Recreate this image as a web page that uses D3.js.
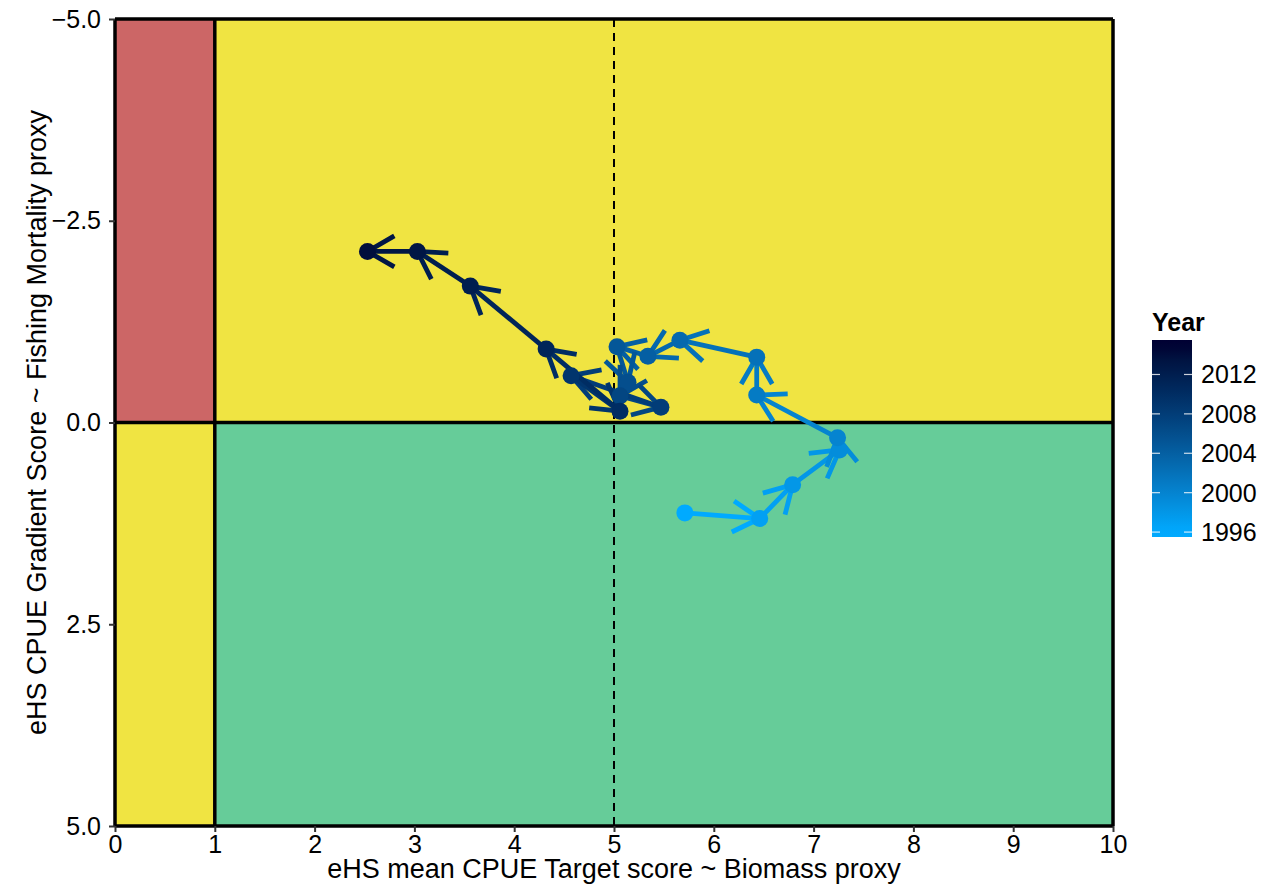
<!DOCTYPE html>
<html><head><meta charset="utf-8">
<script src="https://cdn.jsdelivr.net/npm/d3@7"></script>
<style>body{margin:0;background:#fff}svg{display:block}text{font-family:"Liberation Sans",Arial,sans-serif}</style>
</head><body>
<svg id="c" width="1272" height="887"></svg>
<script>
// data
const years    = [1996,1997,1998,1999,2000,2001,2002,2003,2004,2005,2006,2007,2008,2009,2010,2011,2012,2013,2014];
const target   = [5.71,6.46,6.79,7.26,7.24,6.43,6.43,5.66,5.34,5.03,5.14,5.06,5.47,4.57,5.06,4.32,3.56,3.03,2.53];
const gradient = [1.12,1.19,0.77,0.34,0.19,-0.34,-0.81,-1.02,-0.82,-0.94,-0.50,-0.33,-0.19,-0.58,-0.14,-0.91,-1.69,-2.12,-2.12];
const xTicks = [0,1,2,3,4,5,6,7,8,9,10];
const yTicks = [-5,-2.5,0,2.5,5];
const legendTicks = [1996,2000,2004,2008,2012];
const colorLimits = [1996,2015];
const zones = [
  {x0:0,x1:1,y0:-5,y1:0,fill:"#CC6666"},
  {x0:0,x1:1,y0:0,y1:5,fill:"#F0E442"},
  {x0:1,x1:10,y0:-5,y1:0,fill:"#F0E442"},
  {x0:1,x1:10,y0:0,y1:5,fill:"#66CC99"}
];

const svg = d3.select("#c");
const L=115,R=1113,T=19,B=826;
const x = d3.scaleLinear().domain([0,10]).range([L,R]);
const y = d3.scaleLinear().domain([-5,5]).range([T,B]);
const col = d3.scaleLinear().domain(colorLimits).range(["#00AAFF","#000033"]).interpolate(d3.interpolateLab);

// zones
svg.append("g").selectAll("rect").data(zones).join("rect")
  .attr("x",d=>x(d.x0)).attr("y",d=>y(d.y0))
  .attr("width",d=>x(d.x1)-x(d.x0)).attr("height",d=>y(d.y1)-y(d.y0))
  .attr("fill",d=>d.fill);
// borders
const lines = svg.append("g").attr("stroke","#000").attr("stroke-width",3.5);
[0,1,10].forEach(v=>lines.append("line").attr("x1",x(v)).attr("x2",x(v)).attr("y1",y(-5)).attr("y2",y(5)));
[-5,0,5].forEach(v=>lines.append("line").attr("y1",y(v)).attr("y2",y(v)).attr("x1",x(0)).attr("x2",x(10)));
svg.append("line").attr("x1",x(5)).attr("x2",x(5)).attr("y1",y(-5)).attr("y2",y(5))
  .attr("stroke","#000").attr("stroke-width",2).attr("stroke-dasharray","8,6");

// axes
const fmtY = d=>d3.format(".1f")(d).replace("-","\u2212");
const xa = svg.append("g").attr("transform",`translate(0,${B})`)
  .call(d3.axisBottom(x).tickValues(xTicks).tickSize(6).tickPadding(3).tickFormat(d3.format("d")));
const ya = svg.append("g").attr("transform",`translate(${L},0)`)
  .call(d3.axisLeft(y).tickValues(yTicks).tickSize(6).tickPadding(8).tickFormat(fmtY));
[xa,ya].forEach(a=>{a.select(".domain").remove();
  a.selectAll(".tick line").attr("stroke","#333").attr("stroke-width",2);
  a.selectAll(".tick text").attr("fill","#000").style("font-size","25px");});

svg.append("text").attr("x",(L+R)/2).attr("y",878).attr("text-anchor","middle")
  .style("font-size","27px").text("eHS mean CPUE Target score ~ Biomass proxy");
svg.append("text").attr("transform",`translate(46,${(T+B)/2}) rotate(-90)`).attr("text-anchor","middle")
  .style("font-size","27px").text("eHS CPUE Gradient Score ~ Fishing Mortality proxy");

// path segments with arrows
const pts = years.map((yr,i)=>({yr, px:x(target[i]), py:y(gradient[i])}));
const segs = svg.append("g").attr("stroke-width",4.8).attr("fill","none");
const alen = 31, ang = Math.PI/6;
for(let i=0;i<pts.length-1;i++){
  const a=pts[i], b=pts[i+1], c=col(a.yr);
  segs.append("line").attr("x1",a.px).attr("y1",a.py).attr("x2",b.px).attr("y2",b.py).attr("stroke",c);
  const th = Math.atan2(a.py-b.py, a.px-b.px);
  const p = d3.path();
  p.moveTo(b.px+alen*Math.cos(th+ang), b.py+alen*Math.sin(th+ang));
  p.lineTo(b.px,b.py);
  p.lineTo(b.px+alen*Math.cos(th-ang), b.py+alen*Math.sin(th-ang));
  segs.append("path").attr("d",p.toString()).attr("stroke",c);
}
svg.append("g").selectAll("circle").data(pts).join("circle")
  .attr("cx",d=>d.px).attr("cy",d=>d.py).attr("r",8.5).attr("fill",d=>col(d.yr));

// legend
const lgX=1152,lgW=40,lgT=340,lgB=537;
const ly = d3.scaleLinear().domain([1995.5,2015.5]).range([lgB,lgT]);
const defs = svg.append("defs");
const gr = defs.append("linearGradient").attr("id","lg").attr("x1",0).attr("x2",0).attr("y1",1).attr("y2",0);
d3.range(0,1.0001,0.05).forEach(t=>{
  const v = 1995.5+t*20;
  gr.append("stop").attr("offset",t).attr("stop-color",col(Math.max(colorLimits[0],Math.min(colorLimits[1],v))));
});
svg.append("rect").attr("x",lgX).attr("y",lgT).attr("width",lgW).attr("height",lgB-lgT).attr("fill","url(#lg)");
const lg = svg.append("g");
legendTicks.forEach(v=>{
  lg.append("line").attr("x1",lgX).attr("x2",lgX+8).attr("y1",ly(v)).attr("y2",ly(v)).attr("stroke","#fff").attr("stroke-width",1.2).attr("opacity",0.8);
  lg.append("line").attr("x1",lgX+lgW-8).attr("x2",lgX+lgW).attr("y1",ly(v)).attr("y2",ly(v)).attr("stroke","#fff").attr("stroke-width",1.2).attr("opacity",0.8);
  lg.append("text").attr("x",lgX+lgW+9).attr("y",ly(v)).attr("dy","0.36em").style("font-size","25px").text(v);
});
svg.append("text").attr("x",1152).attr("y",331).style("font-size","25px").style("font-weight","bold").text("Year");
</script>
</body></html>
